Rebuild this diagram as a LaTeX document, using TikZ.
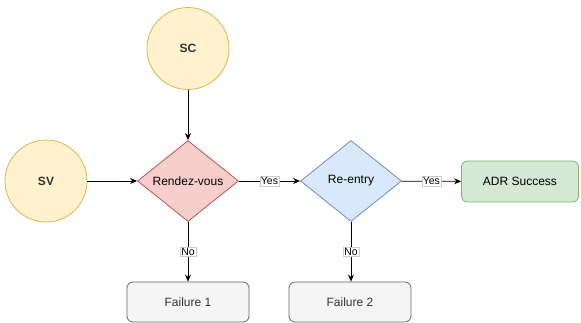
\documentclass[tikz,border=0pt]{standalone}
\usepackage{fontspec}
\setmainfont{Liberation Sans}
\usetikzlibrary{shapes.geometric,arrows.meta}
\definecolor{yfill}{HTML}{FFF2CC}\definecolor{ystroke}{HTML}{D6B656}
\definecolor{rfill}{HTML}{F8CECC}\definecolor{rstroke}{HTML}{B85450}
\definecolor{bfill}{HTML}{DAE8FC}\definecolor{bstroke}{HTML}{6C8EBF}
\definecolor{gfill}{HTML}{D5E8D4}\definecolor{gstroke}{HTML}{82B366}
\definecolor{fillgray}{HTML}{F5F5F5}\definecolor{strokegray}{HTML}{666666}
\definecolor{textgray}{HTML}{333333}
\tikzset{
  circ/.style={circle, draw=ystroke, fill=yfill, line width=0.8pt, minimum size=82pt, inner sep=0pt, font=\fontsize{12}{14}\selectfont\bfseries, text=textgray},
  dia/.style={diamond, line width=0.8pt, minimum width=101pt, minimum height=81pt, inner sep=0pt, font=\fontsize{12}{14}\selectfont},
  failbox/.style={rectangle, rounded corners=6pt, line width=0.8pt, draw=strokegray, fill=fillgray, text=textgray, minimum width=122pt, minimum height=40pt, inner sep=0pt, font=\fontsize{12}{14}\selectfont},
  okbox/.style={rectangle, rounded corners=6pt, line width=0.8pt, draw=gstroke, fill=gfill, minimum width=117pt, minimum height=41pt, inner sep=0pt, font=\fontsize{12}{14}\selectfont},
  conn/.style={draw=black, line width=0.8pt, -{Stealth[length=7pt,width=6pt]}},
  lbl/.style={fill=white, draw=black!20, line width=0.3pt, inner sep=1pt, font=\fontsize{10.5}{12}\selectfont},
}
\begin{document}
\begin{tikzpicture}[x=1pt,y=-1pt]
\useasboundingbox (0,0) rectangle (581,322);
\node[circ] (sc) at (188,48.5) {SC};
\node[circ] (sv) at (46,181) {SV};
\node[dia, draw=rstroke, fill=rfill] (rv) at (188,181) {Rendez-vous};
\node[dia, draw=bstroke, fill=bfill] (re) at (351,181) {Re-entry};
\node[okbox] (adr) at (520,181.5) {ADR Success};
\node[failbox] (f1) at (188,302) {Failure 1};
\node[failbox] (f2) at (350,302) {Failure 2};
\draw[conn] (sc) -- (rv);
\draw[conn] (sv) -- (rv);
\draw[conn] (rv) -- node[lbl, pos=0.5] (y1) {Yes} (re);
\draw[conn] (re) -- node[lbl, pos=0.5] (y2) {Yes} (adr);
\draw[conn] (rv) -- node[lbl, pos=0.5] (n1) {No} (f1);
\draw[conn] (re.south) -- node[lbl, pos=0.5] (n2) {No} (re.south |- f2.north);
\end{tikzpicture}
\end{document}
